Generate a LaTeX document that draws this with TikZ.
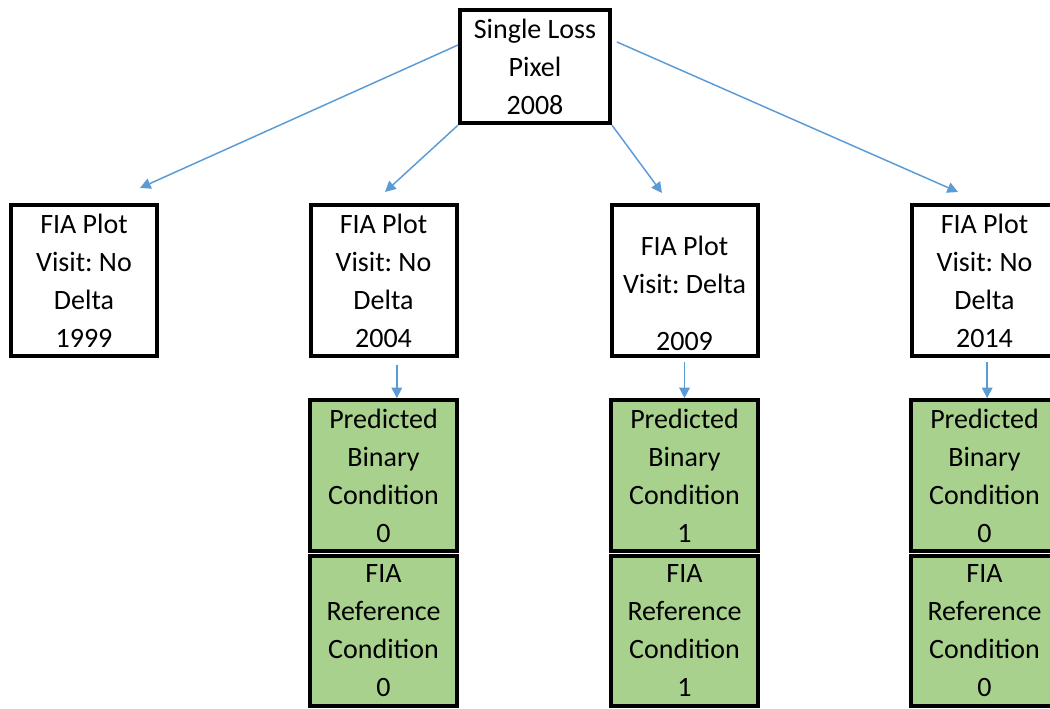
\documentclass[tikz,border=0pt]{standalone}
\usepackage{fontspec}
\setmainfont{Carlito}
\frenchspacing
\usetikzlibrary{arrows.meta}
\definecolor{LinkBlue} {HTML}{5B9BD5}
\definecolor{CondGreen}{HTML}{A9D18E}
\tikzset{
  boxtext/.style={
    align=center, inner sep=0pt,
    font=\fontsize{21}{28.5}\selectfont,
  },
  plotbox/.style={
    boxtext, draw=black, line width=3pt, fill=white,
    minimum width=109.5pt, minimum height=113pt,
  },
  pixelbox/.style={
    plotbox, minimum width=112.5pt, minimum height=85pt,
  },
  condbox/.style={
    plotbox, fill=CondGreen, minimum width=110pt,
  },
  link/.style={
    -{Triangle[length=8pt,width=8pt]}, color=LinkBlue, line width=1.1pt,
  },
}

\begin{document}
\begin{tikzpicture}[x=0.75pt, y=-0.75pt]

\useasboundingbox (0,0) rectangle (1050,708);
\clip (0,0) rectangle (1050,708);

% ── Nodes ─────────────────────────────────────────────────────────────────
\node[pixelbox] (PIX)   at (535,66.5)  {Single Loss\\Pixel\\2008};
\node[plotbox]  (P1999) at (84,280.5)  {FIA Plot\\Visit: No\\Delta\\1999};
\node[plotbox]  (P2004) at (383.5,280.5) {FIA Plot\\Visit: No\\Delta\\2004};
\node[plotbox]  (P2009) at (684.5,280.5) {};
\node[boxtext]  (T2009) at (684.5,293.5) {FIA Plot\\Visit: Delta\\[0.5\baselineskip]2009};
\node[plotbox]  (P2014) at (984.5,280.5) {FIA Plot\\Visit: No\\Delta\\2014};

% green condition boxes, cut off by the page edge
\node[condbox] (PRED2004) at (383.5,475.5) {Predicted\\Binary\\Condition\\0};
\node[condbox] (REF2004)  at (383.5,631) {FIA\\Reference\\Condition\\0};
\node[condbox] (PRED2009) at (684.5,475.5) {Predicted\\Binary\\Condition\\1};
\node[condbox] (REF2009)  at (684.5,631) {FIA\\Reference\\Condition\\1};
\node[condbox] (PRED2014) at (984.5,475.5) {Predicted\\Binary\\Condition\\0};
\node[condbox] (REF2014)  at (984.5,631) {FIA\\Reference\\Condition\\0};

% ── Links ─────────────────────────────────────────────────────────────────
\coordinate (OUT1) at (458,45);
\coordinate (OUT4) at (617,42);
\coordinate (IN1999) at (140,188);
\coordinate (IN2004) at (385,192);
\coordinate (IN2009) at (662,193);
\coordinate (IN2014) at (958,192);

\draw[link] (OUT1) -- (IN1999);
\draw[link] (PIX.south west) -- (IN2004);
\draw[link] (PIX.south east) -- (IN2009);
\draw[link] (OUT4) -- (IN2014);

% plot -> predicted condition
\draw[link] ([xshift=10pt,yshift=-5pt]P2004.south) -- ([xshift=10pt]PRED2004.north);
\draw[link] ([yshift=-3pt]P2009.south) -- (PRED2009.north);
\draw[link] ([xshift=2pt,yshift=-3pt]P2014.south) -- ([xshift=2pt]PRED2014.north);

\end{tikzpicture}
\end{document}
